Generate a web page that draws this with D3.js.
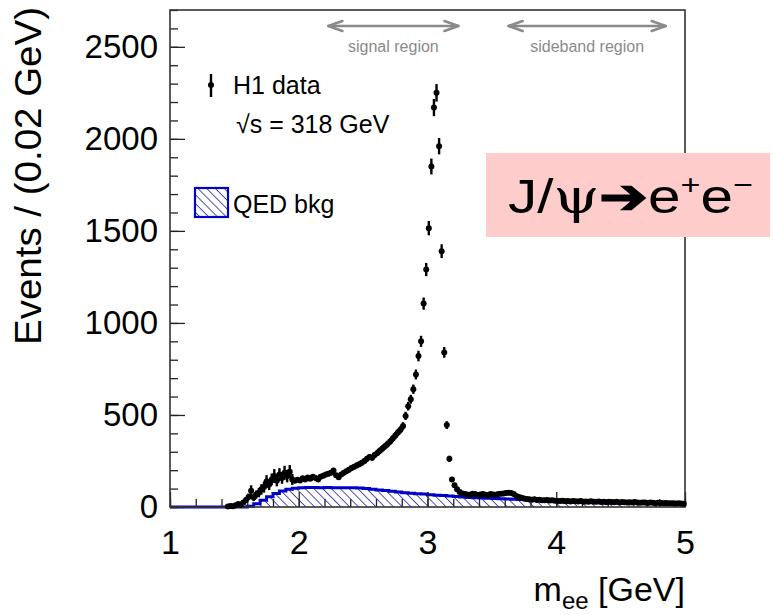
<!DOCTYPE html>
<html>
<head>
<meta charset="utf-8">
<script src="https://cdn.jsdelivr.net/npm/d3@7"></script>
<style>
  html, body { margin: 0; padding: 0; background: #fff; }
  svg { display: block; }
  text { font-family: "Liberation Sans", Arial, sans-serif; }
</style>
</head>
<body>
<svg id="chart" width="773" height="615"></svg>
<script>
// ---- data -------------------------------------------------------------
// H1 di-electron invariant mass, events per 0.02 GeV bin (bin centres from 1.45 GeV)
const dataFirstCentre = 1.45;
const dataBinWidth = 0.02;
const dataCounts = [
  3, 6, 4, 10, 16, 12, 25, 38, 55, 88,
  52, 68, 78, 96, 108, 138, 122, 150, 168, 142,
  176, 158, 186, 168, 192, 150, 142, 148, 144, 156,
  150, 160, 154, 164, 158, 150, 164, 170, 176, 180,
  186, 198, 172, 162, 176, 186, 194, 202, 212, 218,
  226, 232, 240, 250, 262, 272, 268, 282, 294, 306,
  318, 330, 342, 356, 372, 388, 405, 420, 440, 495,
  548, 585, 640, 720, 820, 900, 1105, 1290, 1515, 1850,
  2170, 2250, 1960, 1390, 840, 445, 262, 150, 118, 96,
  82, 74, 70, 68, 66, 72, 70, 65, 68, 70,
  66, 64, 70, 68, 66, 70, 72, 74, 76, 78,
  76, 70, 60, 54, 50, 46, 44, 42, 40, 42,
  38, 40, 37, 36, 38, 35, 36, 34, 33, 32,
  34, 31, 32, 30, 33, 31, 30, 32, 29, 30,
  28, 31, 29, 28, 30, 27, 28, 26, 29, 27,
  26, 28, 25, 27, 26, 24, 26, 25, 27, 24,
  23, 25, 24, 22, 24, 23, 21, 23, 22, 20,
  22, 21, 20, 21, 19, 20, 19, 18
];
// uncertainties of the first bins (weighted events near threshold);
// the remaining bins carry their Poisson error
const dataLowMassErrors = [
  3, 5, 4, 6, 8, 7, 10, 14, 18, 30,
  20, 22, 25, 28, 30, 35, 30, 32, 38, 30,
  35, 32, 38, 34, 36, 30
];

// QED background prediction, 0.05 GeV steps starting at 1.0 GeV (per 0.02 GeV)
const qedFirstEdge = 1.0;
const qedBinWidth = 0.05;
const qedCounts = [
  0, 0, 0, 0, 0, 0, 0, 0, 0, 0, 0, 0,
  4, 18, 36, 56, 74, 87, 96, 102, 105, 106,
  106, 105, 106, 105, 105, 104, 104, 103, 100, 97,
  92, 89, 86, 82, 78, 75, 72, 70, 67, 64,
  62, 60, 57, 54, 52, 50, 49, 48, 46, 45,
  44, 42, 41, 40, 38, 37, 36, 35, 33, 32,
  31, 30, 30, 29, 28, 27, 27, 26, 25, 24,
  24, 23, 22, 21, 21, 20, 19, 18
];

// analysis windows drawn above the spectrum [from, to] in GeV
const regionNames = ["signal region", "sideband region"];
const regionBounds = [[2.23, 3.24], [3.63, 4.85]];

// axis tick values
const xMajorTicks = [1, 2, 3, 4, 5];
const yMajorTicks = [0, 500, 1000, 1500, 2000, 2500];

// ---- layout -----------------------------------------------------------
const svg = d3.select("#chart");
const x = d3.scaleLinear().domain([1, 5]).range([170, 685]);
const y = d3.scaleLinear().domain([0, 2700]).range([507, 10]);

const defs = svg.append("defs");
const hatch = defs.append("pattern")
  .attr("id", "qedHatch")
  .attr("patternUnits", "userSpaceOnUse")
  .attr("width", 6.2).attr("height", 6.2)
  .attr("patternTransform", "rotate(-45)");
hatch.append("line")
  .attr("x1", 0).attr("y1", 0).attr("x2", 0).attr("y2", 6.2)
  .attr("stroke", "#4040b8").attr("stroke-width", 1.8);

// QED background: hatched step histogram
const qedPoints = qedCounts.map((v, i) => [qedFirstEdge + i * qedBinWidth, v]);
qedPoints.push([qedFirstEdge + qedCounts.length * qedBinWidth, qedCounts[qedCounts.length - 1]]);

svg.append("path")
  .datum(qedPoints)
  .attr("fill", "url(#qedHatch)")
  .attr("d", d3.area().curve(d3.curveStepAfter)
    .x(d => x(d[0])).y0(y(0)).y1(d => y(d[1])));

svg.append("path")
  .datum(qedPoints)
  .attr("fill", "none")
  .attr("stroke", "#0000c8")
  .attr("stroke-width", 3)
  .attr("d", d3.line().curve(d3.curveStepAfter)
    .x(d => x(d[0])).y(d => y(d[1])));

// ---- axes (ROOT style: inward ticks) ----------------------------------
const frame = svg.append("g");
const xMinor = d3.range(1, 5.001, 0.2).map(v => +v.toFixed(2));
const yMinor = d3.range(0, 2701, 100);

frame.append("g")
  .attr("transform", `translate(0,${y(0)})`)
  .call(d3.axisBottom(x).tickValues(xMinor).tickSize(-8).tickFormat(""))
  .call(g => g.select(".domain").remove());
const xAxis = frame.append("g")
  .attr("transform", `translate(0,${y(0)})`)
  .call(d3.axisBottom(x).tickValues(xMajorTicks).tickSize(-15).tickPadding(23).tickFormat(d3.format("d")))
  .call(g => g.select(".domain").remove());
xAxis.selectAll("text").attr("font-size", 34).attr("fill", "#000")
  .attr("font-family", "Liberation Sans, Arial, sans-serif");

frame.append("g")
  .attr("transform", `translate(${x(1)},0)`)
  .call(d3.axisLeft(y).tickValues(yMinor).tickSize(-8).tickFormat(""))
  .call(g => g.select(".domain").remove());
const yAxis = frame.append("g")
  .attr("transform", `translate(${x(1)},0)`)
  .call(d3.axisLeft(y).tickValues(yMajorTicks).tickSize(-15).tickPadding(12).tickFormat(d3.format("d")))
  .call(g => g.select(".domain").remove());
yAxis.selectAll("text").attr("font-size", 33).attr("fill", "#000")
  .attr("font-family", "Liberation Sans, Arial, sans-serif");
frame.selectAll(".tick line").attr("stroke", "#222").attr("stroke-width", 1.3);

frame.append("rect")
  .attr("x", x(1)).attr("y", y(2700))
  .attr("width", x(5) - x(1)).attr("height", y(0) - y(2700))
  .attr("fill", "none").attr("stroke", "#333").attr("stroke-width", 1.6);

// ---- data points ------------------------------------------------------
const dataPoints = dataCounts.map((n, i) => ({
  m: dataFirstCentre + i * dataBinWidth,
  n: n,
  e: i < dataLowMassErrors.length ? dataLowMassErrors[i] : Math.sqrt(n)
}));
const pts = svg.append("g");
pts.selectAll("line").data(dataPoints).join("line")
  .attr("x1", d => x(d.m)).attr("x2", d => x(d.m))
  .attr("y1", d => y(Math.max(0, d.n - d.e))).attr("y2", d => y(d.n + d.e))
  .attr("stroke", "#000").attr("stroke-width", 2.4);
pts.selectAll("circle").data(dataPoints).join("circle")
  .attr("cx", d => x(d.m)).attr("cy", d => y(d.n))
  .attr("r", 3).attr("fill", "#000");

// ---- region arrows ----------------------------------------------------
const arrowY = 26;
const regions = svg.append("g").attr("stroke", "#8a8a8a").attr("fill", "none")
  .attr("stroke-width", 2.6).attr("stroke-linecap", "round").attr("stroke-linejoin", "round");
regionBounds.forEach((b, i) => {
  const x0 = x(b[0]), x1 = x(b[1]);
  regions.append("line").attr("x1", x0).attr("x2", x1).attr("y1", arrowY).attr("y2", arrowY);
  regions.append("path").attr("d", `M${x0 + 14},${arrowY - 5} L${x0},${arrowY} L${x0 + 14},${arrowY + 5}`);
  regions.append("path").attr("d", `M${x1 - 14},${arrowY - 5} L${x1},${arrowY} L${x1 - 14},${arrowY + 5}`);
  svg.append("text")
    .attr("x", (x0 + x1) / 2).attr("y", 52)
    .attr("text-anchor", "middle")
    .attr("font-size", 16).attr("fill", "#8a8a8a")
    .text(regionNames[i]);
});

// ---- legend -----------------------------------------------------------
const legend = svg.append("g");
legend.append("line").attr("x1", 211).attr("x2", 211).attr("y1", 74).attr("y2", 97)
  .attr("stroke", "#000").attr("stroke-width", 2.4);
legend.append("circle").attr("cx", 211).attr("cy", 85).attr("r", 3).attr("fill", "#000");
legend.append("text").attr("x", 233).attr("y", 94).attr("font-size", 25).text("H1 data");

legend.append("text").attr("x", 236).attr("y", 133).attr("font-size", 25)
  .text("\u221As = 318 GeV");

legend.append("rect").attr("x", 195).attr("y", 188).attr("width", 33).attr("height", 29)
  .attr("fill", "url(#qedHatch)").attr("stroke", "#0000c8").attr("stroke-width", 2.2);
legend.append("text").attr("x", 233).attr("y", 213).attr("font-size", 25).text("QED bkg");

// ---- axis titles ------------------------------------------------------
svg.append("text")
  .attr("transform", "translate(41,345) rotate(-90)")
  .attr("font-size", 37).attr("fill", "#000")
  .attr("textLength", 338).attr("lengthAdjust", "spacingAndGlyphs")
  .text("Events / (0.02 GeV)");

const xt = svg.append("text").attr("x", 685).attr("y", 601)
  .attr("text-anchor", "end").attr("font-size", 34).attr("fill", "#000");
xt.append("tspan").text("m");
xt.append("tspan").attr("font-size", 24).attr("dy", 8).text("ee");
xt.append("tspan").attr("dy", -8).text(" [GeV]");

// ---- decay label box --------------------------------------------------
svg.append("rect").attr("x", 486).attr("y", 153).attr("width", 284).attr("height", 84)
  .attr("fill", "#ffcccc");
const lab = svg.append("text").attr("x", 508).attr("y", 213)
  .attr("font-size", 48).attr("fill", "#000")
  .attr("font-family", "DejaVu Sans, sans-serif")
  .attr("textLength", 245).attr("lengthAdjust", "spacingAndGlyphs");
lab.append("tspan").text("J/");
lab.append("tspan").attr("font-family", "DejaVu Serif, serif").text("\u03C8");
lab.append("tspan").attr("font-weight", "bold").text("\u2794");
lab.append("tspan").text("e");
lab.append("tspan").attr("font-size", 28).attr("dy", -19).text("+");
lab.append("tspan").attr("dy", 19).text("e");
lab.append("tspan").attr("font-size", 28).attr("dy", -19).text("\u2212");
</script>
</body>
</html>
